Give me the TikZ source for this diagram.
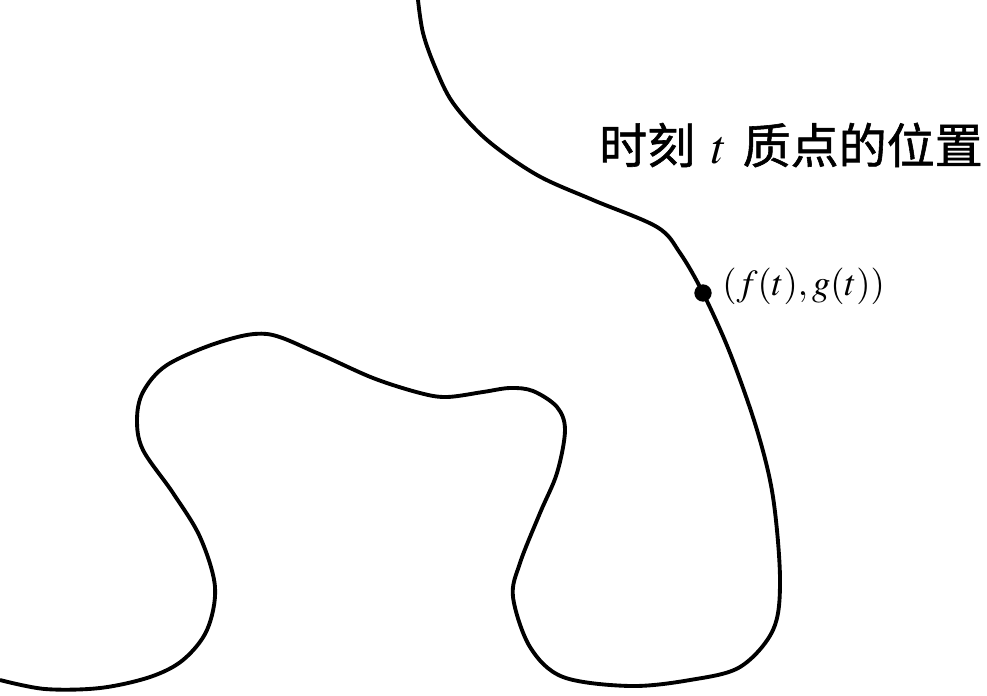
\documentclass[tikz,border=0pt]{standalone}
\usepackage{amsmath,amssymb,amsfonts}
\usepackage{mathptmx}
\usepackage{fontspec}
\newfontfamily\cjk[FakeBold=1.2]{Noto Sans CJK SC}
\usetikzlibrary{positioning}

\begin{document}
\begin{tikzpicture}[x=0.75pt,y=0.75pt,yscale=-1,xscale=1]
\useasboundingbox (0,0) rectangle (987,695);

%Curve Lines
\draw [line width=2.9pt, line join=round] plot [smooth, tension=0.55] coordinates {
  (418,0) (423,33) (435,67) (453,103) (487,140) (537,175) (593,200) (657,227)
  (680,253) (703,293) (730,353) (757,430) (773,497) (780,580) (773,630) (740,667)
  (690,680) (630,686) (563,677) (530,647) (513,597) (520,563) (540,513) (557,473)
  (565,430) (557,407) (533,391) (510,388) (483,392) (447,397) (420,393) (373,378)
  (317,353) (267,334) (220,342) (167,365) (143,392) (137,420) (143,450) (173,493)
  (200,537) (215,587) (207,630) (183,660) (150,677) (100,688) (45,689) (0,680)
};

%Shape: Circle
\node (dot) [circle, fill, inner sep=0pt, minimum size=13pt] at (703,293) {};

% Text Node
\node (pos) [anchor=west, inner sep=0.75pt, font=\fontsize{27.5}{32}\selectfont] at (721,286) {$(f(t),g(t))$};
% Text Node
\node (when) [anchor=west, inner sep=0.75pt, font=\fontsize{36}{40}\selectfont] at (598,145) {{\cjk 时刻}\hspace{12pt}$t$\hspace{12pt}{\cjk 质点的位置}};

\end{tikzpicture}
\end{document}
